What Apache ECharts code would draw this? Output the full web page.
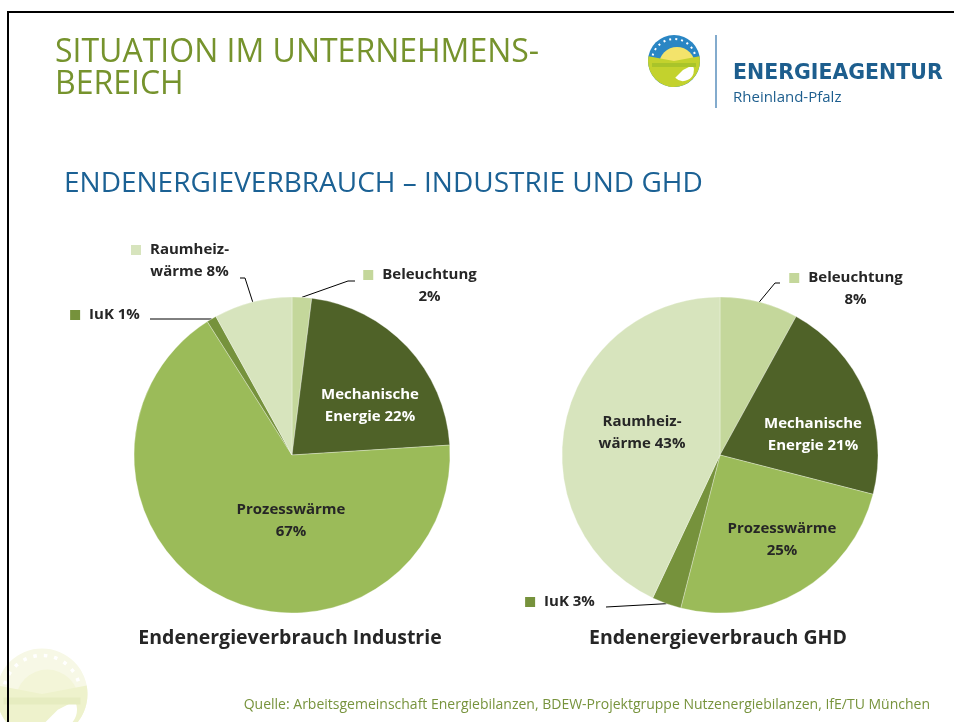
<!DOCTYPE html>
<html>
<head>
<meta charset="utf-8">
<script src="https://cdn.jsdelivr.net/npm/echarts@6/dist/echarts.min.js"></script>
<style>
  html, body { margin: 0; padding: 0; background: #fff; }
  #chart { width: 954px; height: 722px; }
</style>
</head>
<body>
<div id="chart"></div>
<script>
// Kategorien (Reihenfolge im Uhrzeigersinn ab 12 Uhr)
const categories = ['Beleuchtung', 'Mechanische Energie', 'Prozesswärme', 'IuK', 'Raumheizwärme']
// Beschriftungstext vor dem Prozentwert
const labelPrefixes = ['Beleuchtung\n', 'Mechanische\nEnergie ', 'Prozesswärme\n', 'IuK ', 'Raumheiz-\nwärme ']
const industrieValues = [2, 22, 67, 1, 8]
const ghdValues = [8, 21, 25, 3, 43]
const sliceColors = ['#c4d79b', '#4f6228', '#9bbb59', '#76923c', '#d7e4bd']

const FONT = '"Open Sans", Carlito, Lato, sans-serif'
const TEXT_DARK = '#262626'
const R = 158

// Beschriftungs-Layout relativ zum Kreismittelpunkt
const industrieLayout = {
  center: [292, 455],
  labels: [
    { outside: true, x: 128, y: -191, v: 'top', line: [[56, -174], [63, -174]] },
    { x: 78, y: -49, color: '#fff' },
    { x: -1, y: 66 },
    { outside: true, x: -187, y: -140, v: 'middle', line: [[-84, -136], [-142, -136]] },
    { outside: true, x: -112, y: -216, v: 'top', line: [[-47, -177], [-52, -177]] },
  ],
}
const ghdLayout = {
  center: [720, 455],
  labels: [
    { outside: true, x: 126, y: -188, v: 'top', line: [[55, -172], [60, -172]] },
    { x: 93, y: -20, color: '#fff' },
    { x: 62, y: 85 },
    { outside: true, x: -160, y: 147, v: 'middle', line: [[-114, 152]] },
    { x: -78, y: -22 },
  ],
}

function buildData(values, layout) {
  return values.map((v, i) => {
    const spec = layout.labels[i]
    const text = labelPrefixes[i] + v + '%'
    const item = {
      name: categories[i],
      value: v,
      itemStyle: { color: sliceColors[i] },
    }
    if (spec.outside) {
      const lines = text.split('\n')
      const formatted = lines
        .map((l, k) => (k === 0 ? '{sq|}{gap|}{b|' + l + '}' : '{pad|}{b|' + l + '}'))
        .join('\n')
      item.label = {
        show: true,
        position: 'outside',
        formatter: formatted,
        align: 'center',
        rich: {
          sq: { width: 10, height: 10, backgroundColor: sliceColors[i], lineHeight: 22 },
          gap: { width: 9, height: 10, lineHeight: 22 },
          pad: { width: 19, height: 10, lineHeight: 22 },
          b: {
            fontFamily: FONT, fontSize: 15, fontWeight: 'bold',
            color: TEXT_DARK, lineHeight: 22,
          },
        },
      }
      item.labelLine = { show: true }
    } else {
      item.label = {
        show: true,
        position: 'inside',
        formatter: text,
        fontFamily: FONT,
        fontSize: 15,
        fontWeight: 'bold',
        lineHeight: 22,
        align: 'center',
        color: spec.color || TEXT_DARK,
      }
      item.labelLine = { show: false }
    }
    return item
  })
}

function buildSeries(values, layout) {
  const [cx, cy] = layout.center
  return {
    type: 'pie',
    center: layout.center,
    radius: R,
    startAngle: 90,
    clockwise: true,
    avoidLabelOverlap: false,
    silent: true,
    itemStyle: { borderColor: 'rgba(255,255,255,0.6)', borderWidth: 0.5 },
    labelLine: {
      lineStyle: { color: '#000', width: 1 },
      length: 10,
      length2: 10,
    },
    data: buildData(values, layout),
    labelLayout: params => {
      const spec = layout.labels[params.dataIndex]
      const res = {
        x: cx + spec.x,
        y: cy + spec.y,
        align: 'center',
        verticalAlign: spec.v || 'middle',
      }
      if (spec.outside && params.labelLinePoints) {
        res.labelLinePoints = [params.labelLinePoints[0]].concat(
          spec.line.map(p => [cx + p[0], cy + p[1]])
        )
      }
      return res
    },
  }
}

function logo(x, y, scale, opacity, c) {
  return {
    type: 'group',
    x: x,
    y: y,
    scaleX: scale,
    scaleY: scale,
    silent: true,
    children: [
      { type: 'circle', shape: { cx: 0, cy: 0, r: 26 }, style: { fill: c.sky, opacity } },
      {
        type: 'arc',
        shape: { cx: 0, cy: 0, r: 22, startAngle: Math.PI * 1.08, endAngle: Math.PI * 1.92 },
        style: { stroke: '#ffffff', lineWidth: 2, lineDash: [2, 4], fill: null, opacity },
      },
      {
        type: 'sector',
        shape: { cx: 3, cy: 4, r: 18, startAngle: Math.PI, endAngle: Math.PI * 2 },
        style: { fill: c.sun, opacity },
      },
      {
        type: 'sector',
        shape: { cx: 0, cy: 0, r: 26, startAngle: -0.06 * Math.PI, endAngle: 1.06 * Math.PI },
        style: { fill: c.e, opacity },
      },
      {
        type: 'sector',
        shape: { cx: 9, cy: 9, r: 11, startAngle: -0.15 * Math.PI, endAngle: 0.75 * Math.PI },
        style: { fill: '#ffffff', opacity: 1 },
      },
      {
        type: 'rect',
        shape: { x: -22, y: 2, width: 44, height: 4 },
        style: { fill: c.bar, opacity },
      },
    ],
  }
}

const chart = echarts.init(document.getElementById('chart'), null, { renderer: 'canvas' })

chart.setOption({
  backgroundColor: '#ffffff',
  animation: false,
  graphic: [
    logo(42, 694, 1.75, 1, { sky: '#f7f8e6', sun: '#f3f5d8', e: '#eef2cc', bar: '#e6ecc0' }),
    {
      type: 'polyline',
      shape: { points: [[8, 722], [8, 12], [954, 12]] },
      style: { stroke: '#000', lineWidth: 2, fill: null },
      silent: true,
    },
    {
      type: 'text', x: 55, y: 53,
      style: {
        text: 'SITUATION IM UNTERNEHMENS-', fontFamily: FONT, fontSize: 32,
        fill: '#76932d', verticalAlign: 'middle',
      },
    },
    {
      type: 'text', x: 55, y: 85,
      style: { text: 'BEREICH', fontFamily: FONT, fontSize: 32, fill: '#76932d', verticalAlign: 'middle' },
    },
    logo(674, 61, 1, 1, { sky: '#2a86c4', sun: '#f3e36b', e: '#c3d22d', bar: '#a9c42a' }),
    {
      type: 'line',
      shape: { x1: 716, y1: 35, x2: 716, y2: 108 },
      style: { stroke: '#5a8fbd', lineWidth: 1.5 },
      silent: true,
    },
    {
      type: 'text', x: 733, y: 74,
      style: {
        text: 'ENERGIEAGENTUR', fontFamily: '"DejaVu Sans", sans-serif', fontSize: 20.5,
        fontWeight: 'bold', fill: '#1d5e8e', verticalAlign: 'middle',
      },
    },
    {
      type: 'text', x: 733, y: 98,
      style: {
        text: 'Rheinland-Pfalz', fontFamily: '"Open Sans", sans-serif', fontSize: 15,
        fill: '#1d5e8e', verticalAlign: 'middle',
      },
    },
    {
      type: 'text', x: 64, y: 184,
      style: {
        text: 'ENDENERGIEVERBRAUCH – INDUSTRIE UND GHD', fontFamily: FONT, fontSize: 28,
        fill: '#1b6194', verticalAlign: 'middle',
      },
    },
    {
      type: 'text', x: 290, y: 638,
      style: {
        text: 'Endenergieverbrauch Industrie', fontFamily: FONT, fontSize: 19.5, fontWeight: 'bold',
        fill: TEXT_DARK, align: 'center', verticalAlign: 'middle',
      },
    },
    {
      type: 'text', x: 718, y: 638,
      style: {
        text: 'Endenergieverbrauch GHD', fontFamily: FONT, fontSize: 19.5, fontWeight: 'bold',
        fill: TEXT_DARK, align: 'center', verticalAlign: 'middle',
      },
    },
    {
      type: 'text', x: 930, y: 705,
      style: {
        text: 'Quelle: Arbeitsgemeinschaft Energiebilanzen, BDEW-Projektgruppe Nutzenergiebilanzen, IfE/TU München',
        fontFamily: FONT, fontSize: 14, fill: '#77933c', align: 'right', verticalAlign: 'middle',
      },
    },
  ],
  series: [buildSeries(industrieValues, industrieLayout), buildSeries(ghdValues, ghdLayout)],
})
</script>
</body>
</html>
